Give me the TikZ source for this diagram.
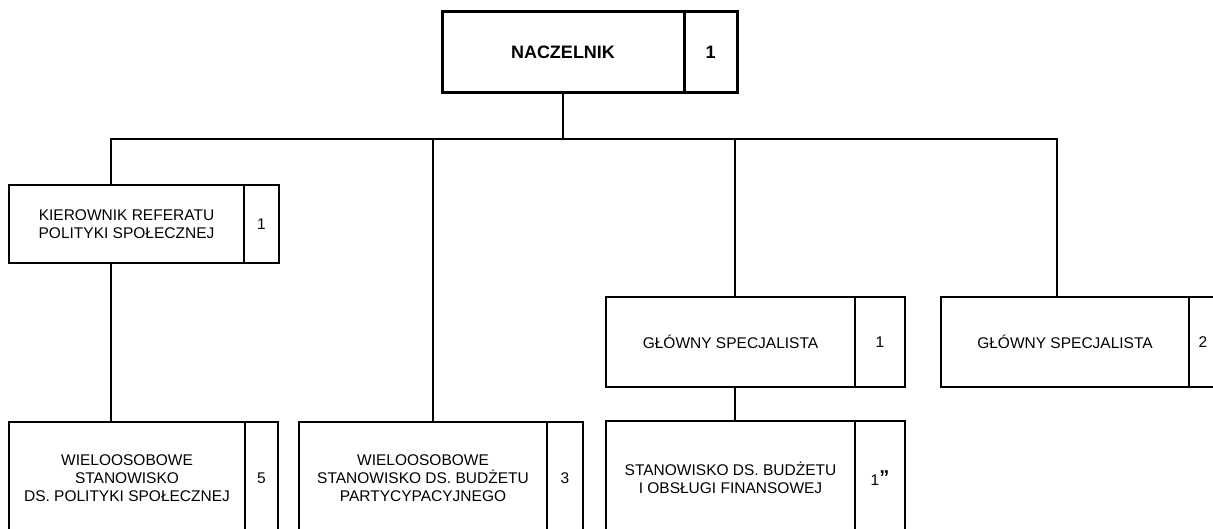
\documentclass[tikz,border=0pt]{standalone}
\usepackage{fontspec}
\setmainfont{Liberation Sans}
\begin{document}
\begin{tikzpicture}[x=1pt,y=-1pt]
\tikzset{
  cell/.style={draw, line width=2pt, rectangle, anchor=north west, inner sep=0pt, outer sep=0pt,
    align=center, font=\fontsize{15.5}{18.3}\selectfont},
  boss/.style={cell, line width=3pt, font=\bfseries\fontsize{18}{21}\selectfont},
  conn/.style={line width=1.6pt},
}
\useasboundingbox (0,0) rectangle (1213,529);
\clip (0,0) rectangle (1213,529);
% top
\node[boss, minimum width=242pt, minimum height=81pt] (n) at (442,12) {NACZELNIK};
\node[boss, minimum width=53pt, minimum height=81pt] (nn) at (n.north east) {1};
% level 2
\node[cell, minimum width=235pt, minimum height=78pt] (k) at (9,185) {KIEROWNIK REFERATU\\POLITYKI SPOŁECZNEJ};
\node[cell, minimum width=35pt, minimum height=78pt] (kn) at (k.north east) {1};
\node[cell, minimum width=249pt, minimum height=90pt] (g1) at (606,297) {GŁÓWNY SPECJALISTA};
\node[cell, minimum width=50pt, minimum height=90pt] (g1n) at (g1.north east) {1};
\node[cell, minimum width=248pt, minimum height=90pt] (g2) at (941,297) {GŁÓWNY SPECJALISTA};
\node[cell, minimum width=28pt, minimum height=90pt] (g2n) at (g2.north east) {2};
% bottom
\node[cell, minimum width=236pt, minimum height=112pt] (w1) at (9,422) {WIELOOSOBOWE\\STANOWISKO\\DS. POLITYKI SPOŁECZNEJ};
\node[cell, minimum width=33pt, minimum height=112pt] (w1n) at (w1.north east) {5};
\node[cell, minimum width=248pt, minimum height=112pt] (w2) at (299,422) {WIELOOSOBOWE\\STANOWISKO DS. BUDŻETU\\PARTYCYPACYJNEGO};
\node[cell, minimum width=36pt, minimum height=112pt] (w2n) at (w2.north east) {3};
\node[cell, minimum width=249pt, minimum height=114pt] (st) at (606,421) {STANOWISKO DS. BUDŻETU\\I OBSŁUGI FINANSOWEJ};
\node[cell, minimum width=50pt, minimum height=114pt] (stn) at (st.north east) {1\raisebox{1.5pt}{\fontsize{20}{20}\selectfont\bfseries ”}};
% connectors
\coordinate (j0) at (563,139);
\coordinate (jL) at (111,139);
\coordinate (jR) at (1057,139);
\coordinate (jW) at (433,139);
\coordinate (jG) at (735,139);
\draw[conn] (n.south -| j0) -- (j0);
\draw[conn] (jL |- k.north) -- (jL) -- (jR) -- (jR |- g2.north);
\draw[conn] (jW) -- (jW |- w2.north);
\draw[conn] (jG) -- (jG |- g1.north);
\draw[conn] (k.south -| jL) -- (w1.north -| jL);
\draw[conn] (g1.south -| jG) -- (st.north -| jG);
\end{tikzpicture}
\end{document}
